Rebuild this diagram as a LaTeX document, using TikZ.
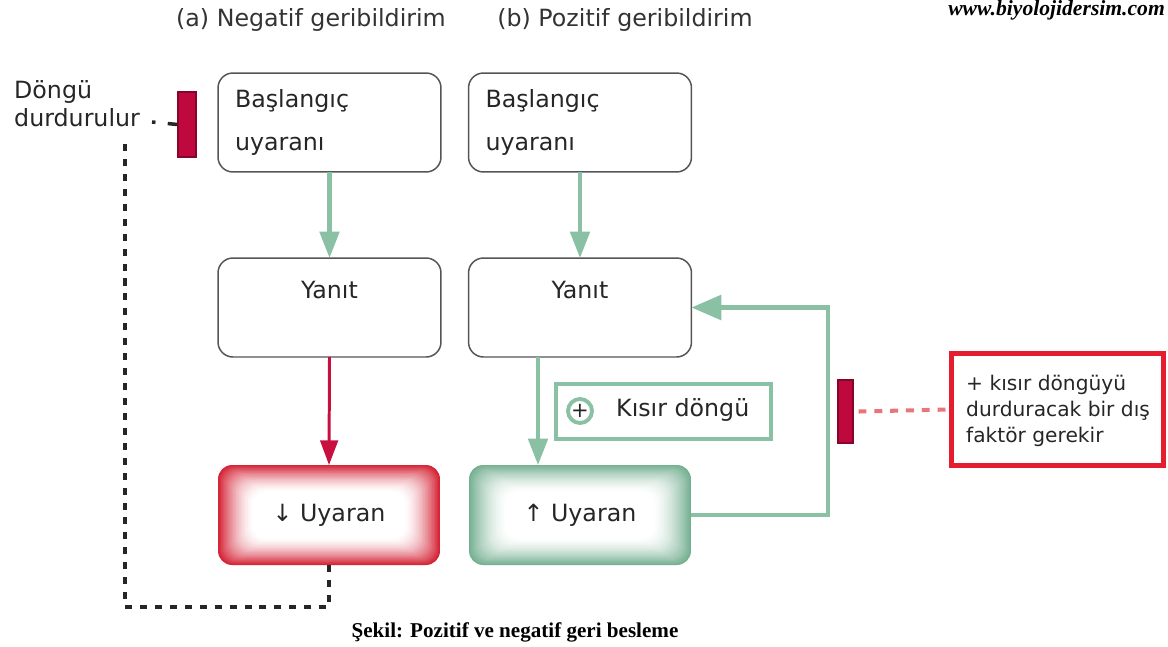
\documentclass[tikz,border=0pt]{standalone}
\usepackage{fontspec}
\setmainfont{DejaVu Sans}
\newfontfamily\serifcap{Liberation Serif}
\definecolor{loopgreen}{RGB}{138, 192, 163}
\definecolor{glowgreen}{RGB}{118, 176, 146}
\definecolor{glowred}{RGB}{212, 36, 54}
\definecolor{arrowred}{RGB}{200, 16, 64}
\definecolor{stopbar}{RGB}{190, 8, 62}
\definecolor{warnbox}{RGB}{228, 30, 46}
\definecolor{dashpink}{RGB}{232, 118, 118}
\definecolor{boxgray}{RGB}{85, 85, 85}
\usetikzlibrary{arrows.meta, positioning, calc}

\tikzset{
  plainbox/.style={draw=boxgray, line width=0.85pt, rounded corners=8.5pt, minimum width=4.46cm, minimum height=1.98cm, outer sep=0pt},
  glowbox/.style={minimum width=4.44cm, minimum height=2cm, outer sep=0pt, inner sep=0pt},
  boxtext/.style={text=black!85, font=\fontsize{13.5}{24.5}\selectfont},
  greenflow/.style={draw=loopgreen, line width=2.3pt, -{Triangle[length=15pt, width=11pt]}},
  stopline/.style={draw=black!85, line width=2.2pt, dash pattern=on 4pt off 4.5pt},
  stopbox/.style={fill=stopbar, draw=stopbar!70!black, line width=0.6pt, inner sep=0pt}
}

\begin{document}
\begin{tikzpicture}[x=0.02cm, y=-0.02cm]
  \useasboundingbox (0, 0) rectangle (1168, 646);

  % Headings
  \node[boxtext, text=black!80] (ha) at (311, 20) {(a) Negatif geribildirim};
  \node[boxtext, text=black!80] (hb) at (625, 20) {(b) Pozitif geribildirim};
  \node[font=\serifcap\bfseries\itshape\fontsize{12.3}{13}\selectfont, anchor=east] (web) at (1171, 10) {www.biyolojidersim.com};

  % Negative feedback column
  \node[plainbox, boxtext, text width=3.78cm, inner xsep=0.34cm, inner ysep=0pt, align=left] (b1) at (329.5, 122.5) {Başlangıç\\uyaranı};
  \node[plainbox] (y1) at (329.5, 307.5) {};
  \node[boxtext, inner sep=0pt, below=0.45cm of y1.north] (y1t) {Yanıt};
  \node[glowbox] (u1) at (329, 515) {};
  \foreach \i [evaluate=\i as \p using {int(100*(1-\i/24)^1.6)}] in {0,...,23}
    \fill[glowred!\p!white, rounded corners=8pt] ($(u1.north west)+(1.5*\i, 1.15*\i)$) rectangle ($(u1.south east)-(1.5*\i, 1.15*\i)$);
  \node[boxtext] (u1t) at (u1) {↓ Uyaran};

  \draw[greenflow] (b1.south) -- (y1.north);
  \draw[draw=arrowred, line width=1.7pt, -{Triangle[length=14pt, width=10pt]}] (y1.south) -- (u1.north);

  % Loop is stopped
  \node[boxtext, align=left, anchor=west, font=\fontsize{13.5}{16}\selectfont] (stoptxt) at (8, 104) {Döngü\\durdurulur};
  \node[stopbox, minimum width=0.36cm, minimum height=1.3cm] (bar1) at (187, 124.5) {};
  \coordinate (dtop) at (125, 138);
  \coordinate (dbot) at (125, 607);
  \draw[stopline] (u1.south) |- (dbot) -- (dtop);
  \draw[draw=black!85, line width=2pt, dash pattern=on 2pt off 7pt on 10pt] (152, 122) -- (bar1.west);

  % Positive feedback column
  \node[plainbox, boxtext, text width=3.78cm, inner xsep=0.34cm, inner ysep=0pt, align=left] (b2) at (580, 122.5) {Başlangıç\\uyaranı};
  \node[plainbox] (y2) at (580, 307.5) {};
  \node[boxtext, inner sep=0pt, below=0.45cm of y2.north] (y2t) {Yanıt};
  \node[glowbox] (u2) at (580, 515) {};
  \foreach \i [evaluate=\i as \p using {int(100*(1-\i/24)^1.6)}] in {0,...,23}
    \fill[glowgreen!\p!white, rounded corners=8pt] ($(u2.north west)+(1.6*\i, 1.15*\i)$) rectangle ($(u2.south east)-(1.6*\i, 1.15*\i)$);
  \node[boxtext] (u2t) at (u2) {↑ Uyaran};

  \draw[greenflow] (b2.south) -- (y2.north);
  \draw[greenflow] ($(y2.south)+(-42, 0)$) -- ($(u2.north)+(-42, 0)$);
  \coordinate (loopr) at (828, 515);
  \draw[greenflow, -{Triangle[length=17pt, width=14pt]}] (u2.east) -- (loopr) |- (y2.east);

  % Vicious circle
  \node[draw=loopgreen, line width=2.4pt, minimum width=4.3cm, minimum height=1.1cm] (kd) at (663.5, 411.5) {};
  \node[circle, draw=loopgreen, line width=2.2pt, minimum size=0.48cm, inner sep=0pt, text=black!85, font=\fontsize{12}{12}\selectfont] (plus) at (580, 411) {+};
  \node[boxtext, anchor=west] (kdt) at (610, 410) {Kısır döngü};

  % Outside factor
  \node[stopbox, minimum width=0.3cm, minimum height=1.26cm] (bar2) at (845.5, 411.5) {};
  \node[draw=warnbox, line width=2.8pt, minimum width=4.25cm, minimum height=2.25cm] (rb) at (1057.5, 409.5) {};
  \node[text=black!85, align=left, anchor=west, font=\fontsize{11.5}{14.8}\selectfont] (rbt) at (960, 411) {+ kısır döngüyü\\durduracak bir dış\\faktör gerekir};
  \draw[draw=dashpink, line width=2.3pt, dash pattern=on 4.5pt off 4.5pt] (bar2.east) ++(5, 0) -- (rb.west);

  \node[font=\serifcap\bfseries\fontsize{12}{13}\selectfont] (cap) at (515, 632) {Şekil: Pozitif ve negatif geri besleme};
\end{tikzpicture}
\end{document}
